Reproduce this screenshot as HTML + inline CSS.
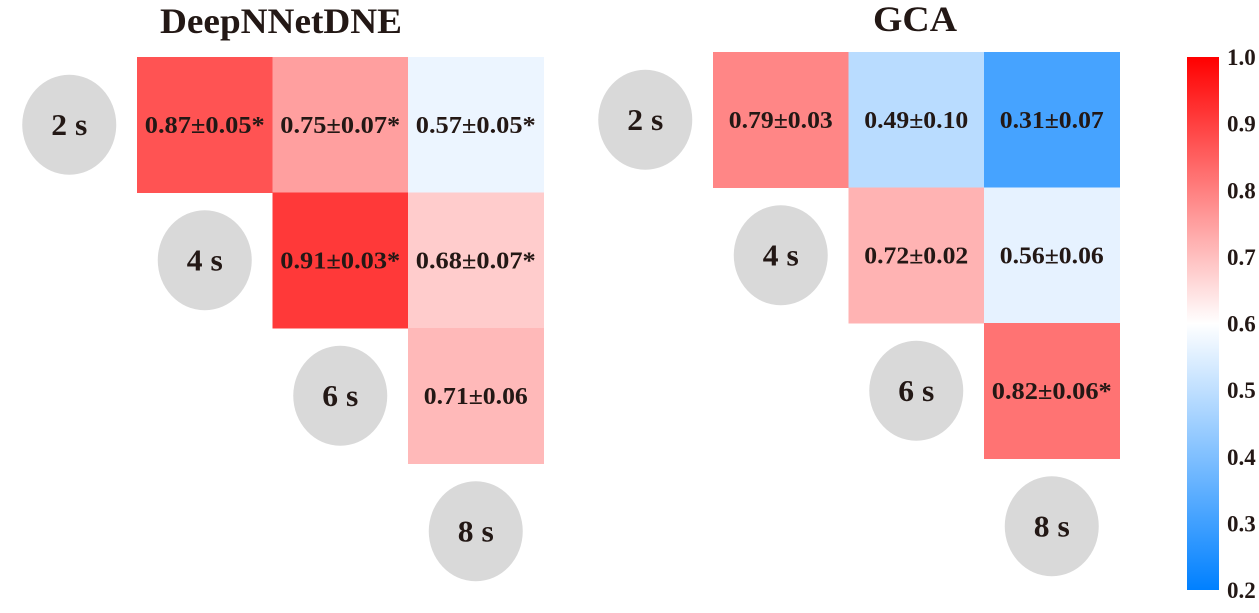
<!DOCTYPE html>
<html><head><meta charset="utf-8"><style>
body{margin:0;background:#fff;}
svg text{font-family:"Liberation Serif",serif;font-weight:bold;fill:#231815;}
</style></head><body>
<svg id="c" width="1259" height="608" xmlns="http://www.w3.org/2000/svg">
<defs><linearGradient id="cbg" x1="0" y1="1" x2="0" y2="0">
<stop offset="0" stop-color="#0080ff"/><stop offset="0.5" stop-color="#ffffff"/><stop offset="1" stop-color="#ff0000"/>
</linearGradient></defs>
<text x="281" y="33" font-size="36" text-anchor="middle" textLength="242" lengthAdjust="spacingAndGlyphs">DeepNNetDNE</text>
<text x="915" y="31" font-size="36" text-anchor="middle" textLength="84" lengthAdjust="spacingAndGlyphs">GCA</text>
<g id="panels"></g>
<rect x="1187" y="57" width="32" height="533" fill="url(#cbg)"/>
<g id="cb"></g>
</svg>
<script>
const timeLabels=["2 s","4 s","6 s","8 s"];
const deepValues=[0.87,0.75,0.57,0.91,0.68,0.71];
const deepLabels=["0.87±0.05*","0.75±0.07*","0.57±0.05*","0.91±0.03*","0.68±0.07*","0.71±0.06"];
const gcaValues=[0.79,0.49,0.31,0.72,0.56,0.82];
const gcaLabels=["0.79±0.03","0.49±0.10","0.31±0.07","0.72±0.02","0.56±0.06","0.82±0.06*"];
const cbTicks=[0.2,0.3,0.4,0.5,0.6,0.7,0.8,0.9,1.0];
const NS="http://www.w3.org/2000/svg";
function color(v){
  let r,g,b;
  if(v>=0.6){const t=Math.min(1,(v-0.6)/0.4);r=255;g=Math.round(255*(1-t));b=g;}
  else{const t=Math.min(1,(0.6-v)/0.4);r=Math.round(255*(1-t));g=Math.round(255-127*t);b=255;}
  return `rgb(${r},${g},${b})`;
}
const pairs=[[0,1],[0,2],[0,3],[1,2],[1,3],[2,3]];
function el(tag,attrs,parent){const e=document.createElementNS(NS,tag);for(const k in attrs)e.setAttribute(k,attrs[k]);parent.appendChild(e);return e;}
const P=document.getElementById('panels');
function panel(x0,y0,vals,labs,name){
  const S=135.5;
  const g=el('g',{},P);
  
  
  pairs.forEach((p,i)=>{
    const cx=x0+(p[1]-1)*S, cy=y0+p[0]*S;
    const r=el('rect',{x:cx,y:cy,width:S+0.5,height:S+0.5,fill:color(vals[i])},g);
    
    
    const star=labs[i].endsWith('*');
    const t=el('text',{x:cx+S/2,y:cy+S/2+8,'font-size':24,'text-anchor':'middle',textLength:star?120:104,lengthAdjust:'spacingAndGlyphs'},g);
    t.textContent=labs[i];
    
    
  });
  timeLabels.forEach((l,i)=>{
    const cx=x0-S/2+i*S, cy=y0+S/2+i*S;
    const c=el('ellipse',{cx:cx,cy:cy,rx:47,ry:50,fill:'#d9d9d9'},g);
    
    
    const t=el('text',{x:cx,y:cy+10,'font-size':31,'text-anchor':'middle',textLength:36,lengthAdjust:'spacingAndGlyphs'},g);
    t.textContent=l;
    
    
  });
}
panel(137,57,deepValues,deepLabels,'deepnnetdne');
panel(713,52,gcaValues,gcaLabels,'gca');
const cb=document.getElementById('cb');
cbTicks.forEach(v=>{
  const y=590-(v-0.2)/0.8*533;
  const t=el('text',{x:1227,y:y+8,'font-size':23},cb);
  t.textContent=v.toFixed(1);
  
  
});
</script>
</body></html>
